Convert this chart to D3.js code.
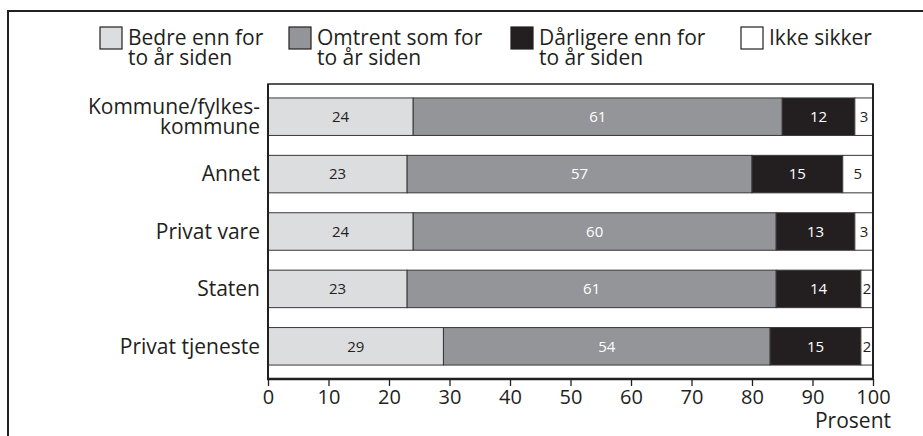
<!DOCTYPE html>
<html>
<head>
<meta charset="utf-8">
<script src="https://cdn.jsdelivr.net/npm/d3@7"></script>
<style>
  html, body { margin: 0; padding: 0; background: #fff; }
  svg { display: block; font-family: "Open Sans", "Noto Sans", sans-serif; }
</style>
</head>
<body>
<svg id="chart" width="923" height="436"></svg>
<script>
// Sectors (top to bottom) and share of answers per category, in percent
const sectors = [["Kommune/fylkes-", "kommune"], ["Annet"], ["Privat vare"], ["Staten"], ["Privat tjeneste"]];
const better   = [24, 23, 24, 23, 29];
const same     = [61, 57, 60, 61, 54];
const worse    = [12, 15, 13, 14, 15];
const unsure   = [3, 5, 3, 2, 2];
const seriesNames = [["Bedre enn for", "to år siden"], ["Omtrent som for", "to år siden"], ["Dårligere enn for", "to år siden"], ["Ikke sikker"]];
const xTicks = [0, 10, 20, 30, 40, 50, 60, 70, 80, 90, 100];

const fills = ["#dcdddf", "#939598", "#231f20", "#ffffff"];
const textFills = ["#231f20", "#ffffff", "#ffffff", "#231f20"];
const ink = "#231f20";
const labelSize = 21;

const svg = d3.select("#chart");

// outer frame
svg.append("path")
  .attr("d", "M8,440 L8,11 L930,11")
  .attr("fill", "none").attr("stroke", ink).attr("stroke-width", 2);

const plotLeft = 268, plotRight = 873, plotTop = 84, plotBottom = 379;
const x = d3.scaleLinear().domain([0, 100]).range([plotLeft, plotRight]);
const ids = sectors.map((d, i) => i);
const y = d3.scaleBand().domain(ids).range([plotTop, plotBottom]).paddingInner(0.347).paddingOuter(0.243);

const rows = ids.map(i => {
  const vals = [better[i], same[i], worse[i], unsure[i]];
  let acc = 0;
  return vals.map((v, k) => { const s = { i, k, v, x0: acc, x1: acc + v }; acc += v; return s; });
});

// plot box
svg.append("rect")
  .attr("x", plotLeft).attr("y", plotTop).attr("width", plotRight - plotLeft).attr("height", plotBottom - plotTop)
  .attr("fill", "none").attr("stroke", ink).attr("stroke-width", 1.5);

const g = svg.append("g");
rows.forEach(segs => {
  segs.forEach(s => {
    g.append("rect")
      .attr("x", x(s.x0)).attr("y", y(s.i))
      .attr("width", x(s.x1) - x(s.x0)).attr("height", y.bandwidth())
      .attr("fill", fills[s.k]).attr("stroke", "#3a3637").attr("stroke-width", 1);
    g.append("text")
      .attr("x", (x(s.x0) + x(s.x1)) / 2).attr("y", y(s.i) + y.bandwidth() / 2)
      .attr("dy", "0.35em").attr("text-anchor", "middle")
      .attr("font-size", 15).attr("fill", textFills[s.k])
      .text(s.v);
  });
});

// category labels
ids.forEach(i => {
  const lines = sectors[i];
  const cy = y(i) + y.bandwidth() / 2;
  const t = svg.append("text")
    .attr("text-anchor", "end").attr("font-size", labelSize).attr("fill", ink);
  lines.forEach((ln, j) => {
    t.append("tspan").attr("x", 260)
      .attr("y", cy + (j - (lines.length - 1) / 2) * 20)
      .attr("dy", "0.35em").text(ln);
  });
});

// axes lines
svg.append("line").attr("x1", plotLeft).attr("x2", plotLeft).attr("y1", plotTop).attr("y2", plotBottom + 1)
  .attr("stroke", ink).attr("stroke-width", 2);
svg.append("line").attr("x1", plotRight).attr("x2", plotRight).attr("y1", plotTop).attr("y2", plotBottom + 1)
  .attr("stroke", ink).attr("stroke-width", 2);

const xAxis = svg.append("g").attr("transform", `translate(0,${plotBottom})`)
  .call(d3.axisBottom(x).tickValues(xTicks).tickSize(7).tickPadding(4).tickFormat(d3.format("d")));
xAxis.select(".domain").attr("stroke", ink).attr("stroke-width", 2.5).attr("d", `M${plotLeft - 1},0H${plotRight + 1}`);
xAxis.selectAll(".tick line").attr("stroke", ink).attr("stroke-width", 1.3);
xAxis.selectAll(".tick text").attr("font-size", 20).attr("fill", ink)
  .attr("font-family", "\"Open Sans\", \"Noto Sans\", sans-serif");

svg.append("text").attr("x", 891).attr("y", 428).attr("text-anchor", "end")
  .attr("font-size", labelSize).attr("fill", ink).text("Prosent");

// legend
const legendX = [100, 289, 511, 741];
seriesNames.forEach((name, k) => {
  svg.append("rect").attr("x", legendX[k]).attr("y", 27).attr("width", 22).attr("height", 22)
    .attr("fill", fills[k]).attr("stroke", ink).attr("stroke-width", 1.2);
  const t = svg.append("text").attr("font-size", labelSize).attr("fill", ink);
  name.forEach((ln, j) => {
    t.append("tspan").attr("x", legendX[k] + 28).attr("y", 45 + j * 20).text(ln);
  });
});
</script>
</body>
</html>
